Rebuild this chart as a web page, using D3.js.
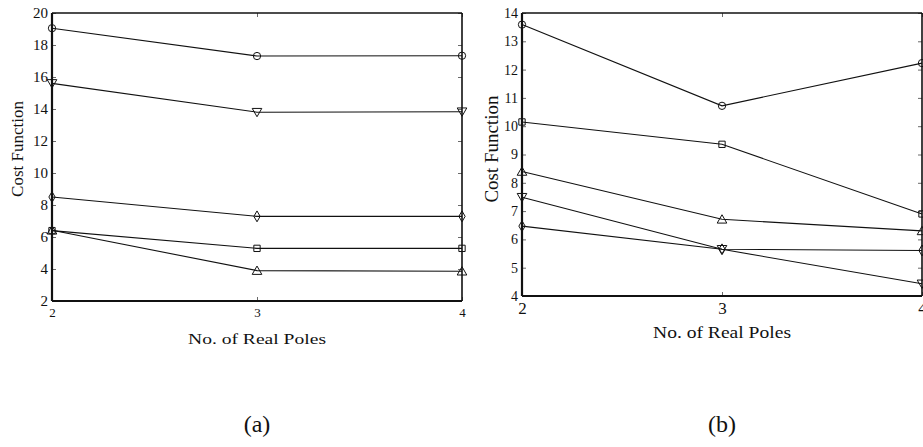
<!DOCTYPE html>
<html>
<head>
<meta charset="utf-8">
<script src="https://cdn.jsdelivr.net/npm/d3@7"></script>
<style>
  html, body { margin: 0; padding: 0; background: #fff; }
  svg { display: block; }
  svg text { font-family: "Liberation Serif", "Times New Roman", Times, "DejaVu Serif", serif; fill: #111; }
</style>
</head>
<body>
<svg id="chart" width="923" height="447"></svg>
<script>
// Number of real poles on the horizontal axis
const poles = [2, 3, 4];

// Panel (a): cost function for each setting
const aCircle   = [19.05, 17.31, 17.33];
const aTriDown  = [15.6, 13.8, 13.83];
const aDiamond  = [8.5, 7.29, 7.29];
const aSquare   = [6.4, 5.29, 5.29];
const aTriUp    = [6.42, 3.9, 3.86];
const aYTicks   = [2, 4, 6, 8, 10, 12, 14, 16, 18, 20];

// Panel (b): cost function for each setting
const bCircle   = [13.59, 10.72, 12.23];
const bSquare   = [10.15, 9.36, 6.9];
const bTriUp    = [8.4, 6.71, 6.3];
const bTriDown  = [7.49, 5.65, 4.43];
const bDiamond  = [6.47, 5.65, 5.61];
const bYTicks   = [4, 5, 6, 7, 8, 9, 10, 11, 12, 13, 14];

const xTickLabels = ["2", "3", "4"];

const FONT = '"Liberation Serif", "Times New Roman", Times, "DejaVu Serif", serif';
const svg = d3.select("#chart");

const symbolFor = {
  circle:   d3.symbolCircle,
  square:   d3.symbolSquare,
  diamond:  d3.symbolDiamond,
  triUp:    d3.symbolTriangle,
  triDown:  d3.symbolTriangle
};
const sizeFor = { circle: 42, square: 40, diamond: 34, triUp: 40, triDown: 40 };

function panel(cfg) {
  const x = d3.scaleLinear().domain([2, 4]).range([cfg.left, cfg.right]);
  const y = d3.scaleLinear().domain(cfg.yDomain).range([cfg.bottom, cfg.top]);
  const g = svg.append("g");

  // inward ticks on all four sides
  const tickLen = 4;
  const axL = d3.axisLeft(y).tickValues(cfg.yTicks).tickSizeInner(-tickLen).tickSizeOuter(0).tickPadding(4);
  const axR = d3.axisRight(y).tickValues(cfg.yTicks).tickSizeInner(-tickLen).tickSizeOuter(0).tickFormat("");
  const axB = d3.axisBottom(x).tickValues(poles).tickSizeInner(-tickLen).tickSizeOuter(0)
    .tickPadding(cfg.xPad).tickFormat((d, i) => xTickLabels[i]);
  const axT = d3.axisTop(x).tickValues(poles).tickSizeInner(-tickLen).tickSizeOuter(0).tickFormat("");

  const gl = g.append("g").attr("transform", `translate(${cfg.left},0)`).call(axL);
  const gr = g.append("g").attr("transform", `translate(${cfg.right},0)`).call(axR);
  const gb = g.append("g").attr("transform", `translate(0,${cfg.bottom})`).call(axB);
  const gt = g.append("g").attr("transform", `translate(0,${cfg.top})`).call(axT);

  [gl, gr, gb, gt].forEach(a => {
    a.attr("font-family", FONT);
    a.select(".domain").remove();
    a.selectAll("line").attr("stroke", "#444").attr("stroke-width", 0.8);
  });
  gl.attr("font-size", cfg.yFont);
  gb.attr("font-size", cfg.xFont);
  gl.selectAll("text").style("font-family", FONT).attr("fill", "#1a1a1a");
  gb.selectAll("text").style("font-family", FONT).attr("fill", "#1a1a1a");

  // frame: heavier left and bottom edges
  g.append("line").attr("x1", cfg.left).attr("x2", cfg.right).attr("y1", cfg.top).attr("y2", cfg.top)
    .attr("stroke", "#111").attr("stroke-width", 1.6);
  g.append("line").attr("x1", cfg.right).attr("x2", cfg.right).attr("y1", cfg.top).attr("y2", cfg.bottom)
    .attr("stroke", "#111").attr("stroke-width", 1.6);
  g.append("line").attr("x1", cfg.left).attr("x2", cfg.right).attr("y1", cfg.bottom).attr("y2", cfg.bottom)
    .attr("stroke", "#111").attr("stroke-width", 2.2);
  g.append("line").attr("x1", cfg.left).attr("x2", cfg.left).attr("y1", cfg.top).attr("y2", cfg.bottom)
    .attr("stroke", "#111").attr("stroke-width", 2.2);

  const line = d3.line().x((d, i) => x(poles[i])).y(d => y(d));

  cfg.series.forEach(s => {
    g.append("path").datum(s.values).attr("d", line)
      .attr("fill", "none").attr("stroke", "#111").attr("stroke-width", 1.1);
  });
  cfg.series.forEach(s => {
    const sym = d3.symbol().type(symbolFor[s.marker]).size(sizeFor[s.marker]);
    g.selectAll(null).data(s.values).enter().append("path")
      .attr("d", sym)
      .attr("transform", (d, i) => {
        const off = s.marker === "triUp" ? 1 : (s.marker === "triDown" ? -1 : 0);
        return `translate(${x(poles[i])},${y(d) + off})` + (s.marker === "triDown" ? " rotate(180)" : "");
      })
      .attr("fill", "none").attr("stroke", "#111").attr("stroke-width", 1);
  });

  // axis titles
  g.append("text")
    .attr("transform", `translate(${cfg.yTitleX},${cfg.yTitleY}) rotate(-90)`)
    .attr("text-anchor", "middle").attr("font-size", cfg.yTitleFont).attr("fill", "#1a1a1a")
    .style("font-family", FONT)
    .text("Cost Function");
  g.append("text")
    .attr("x", (cfg.left + cfg.right) / 2).attr("y", cfg.xTitleY)
    .attr("text-anchor", "middle").attr("font-size", cfg.xTitleFont).attr("fill", "#1a1a1a")
    .style("font-family", FONT)
    .attr("textLength", 138).attr("lengthAdjust", "spacingAndGlyphs")
    .text("No. of Real Poles");
  g.append("text")
    .attr("x", cfg.capX).attr("y", 432)
    .attr("text-anchor", "middle").attr("font-size", 24).attr("fill", "#1a1a1a")
    .style("font-family", FONT)
    .text(cfg.caption);
}

panel({
  left: 52, right: 462, top: 13, bottom: 301,
  yDomain: [2, 20], yTicks: aYTicks,
  yFont: 15, xFont: 13, xPad: 7, xTitleFont: 15, xTitleY: 344,
  yTitleX: 23, yTitleY: 149, yTitleFont: 17, capX: 257, caption: "(a)",
  series: [
    { values: aCircle,  marker: "circle" },
    { values: aTriDown, marker: "triDown" },
    { values: aDiamond, marker: "diamond" },
    { values: aSquare,  marker: "square" },
    { values: aTriUp,   marker: "triUp" }
  ]
});

panel({
  left: 522, right: 922, top: 13, bottom: 296,
  yDomain: [4, 14], yTicks: bYTicks,
  yFont: 14, xFont: 17, xPad: 6, xTitleFont: 17, xTitleY: 338,
  yTitleX: 498, yTitleY: 149, yTitleFont: 19, capX: 722, caption: "(b)",
  series: [
    { values: bCircle,   marker: "circle" },
    { values: bSquare,   marker: "square" },
    { values: bTriUp,    marker: "triUp" },
    { values: bTriDown,  marker: "triDown" },
    { values: bDiamond,  marker: "diamond" }
  ]
});
</script>
</body>
</html>
